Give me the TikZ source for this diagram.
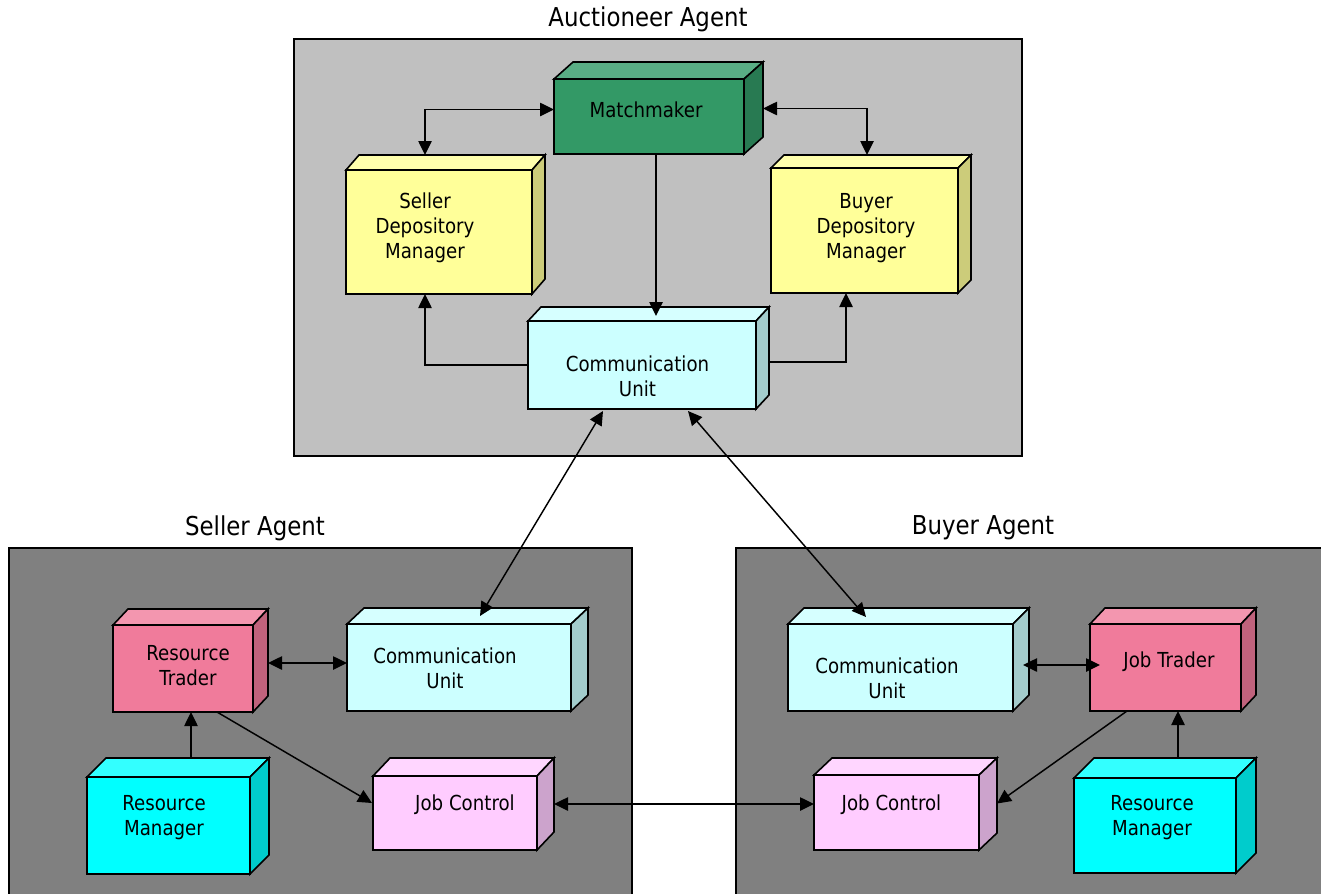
\documentclass[tikz,border=0pt]{standalone}
\usepackage{fontspec}
\setmainfont{DejaVu Sans}[FakeStretch=0.88]
\usetikzlibrary{calc,arrows.meta}
\definecolor{bgauc}{HTML}{C0C0C0}
\definecolor{bgagent}{HTML}{808080}
\definecolor{greenfront}{HTML}{339966}
\definecolor{greentop}{HTML}{5AAE85}
\definecolor{greenside}{HTML}{287A52}
\definecolor{yellowfront}{HTML}{FFFF99}
\definecolor{yellowtop}{HTML}{FFFFAD}
\definecolor{yellowside}{HTML}{CCCC7A}
\definecolor{lcyanfront}{HTML}{CCFFFF}
\definecolor{lcyantop}{HTML}{D6FFFF}
\definecolor{lcyanside}{HTML}{A3CCCC}
\definecolor{pinkfront}{HTML}{F07B9B}
\definecolor{pinktop}{HTML}{F396AF}
\definecolor{pinkside}{HTML}{C0627C}
\definecolor{cyanfront}{HTML}{00FFFF}
\definecolor{cyantop}{HTML}{33FFFF}
\definecolor{cyanside}{HTML}{00CCCC}
\definecolor{jcfront}{HTML}{FFCCFF}
\definecolor{jctop}{HTML}{FFD6FF}
\definecolor{jcside}{HTML}{CCA3CC}
\tikzset{
  cubeedge/.style={draw=black, line width=1.2pt, line join=miter},
  cubefront/.style={cubeedge, rectangle, inner sep=0pt, outer sep=0pt},
  agentbox/.style={draw=black, line width=1.2pt, rectangle, inner sep=0pt},
  boxtext/.style={font=\fontsize{15.5pt}{18.75pt}\selectfont, align=center, inner sep=0pt},
  titletext/.style={font=\fontsize{19.5pt}{23pt}\selectfont, inner sep=0pt},
  conn/.style={draw=black, line width=1.1pt, -{Triangle[length=10.5pt,width=10pt]}},
  conn2/.style={draw=black, line width=1.1pt, {Triangle[length=10.5pt,width=10pt]}-{Triangle[length=10.5pt,width=10pt]}},
}
% #1 name, #2 x1, #3 y1, #4 x2, #5 y2 (front face), #6 dx, #7 dy (up), #8 colour family
\newcommand\cubebox[8]{%
  \node[cubefront, fill=#8front, minimum width={(#4-#2)*0.75pt}, minimum height={(#5-#3)*0.75pt}] (#1) at ({(#2+#4)/2},{(#3+#5)/2}) {};
  \draw[cubeedge, fill=#8top] (#1.north west) -- ++(#6,-#7) -- ++({#4-#2},0) -- (#1.north east) -- cycle;
  \draw[cubeedge, fill=#8side] (#1.north east) -- ++(#6,-#7) -- ++(0,{#5-#3}) -- (#1.south east) -- cycle;
}
\begin{document}
\begin{tikzpicture}[x=0.75pt,y=-0.75pt]
\clip (0,0) rectangle (1321,893);
\fill[white] (0,0) rectangle (1321,893);
% containers
\node[agentbox, fill=bgauc, minimum width={728*0.75pt}, minimum height={417*0.75pt}] (auctioneer) at (658,247.5) {};
\node[agentbox, fill=bgagent, minimum width={623*0.75pt}, minimum height={360*0.75pt}] (seller) at (320.5,728) {};
\node[agentbox, fill=bgagent, minimum width={600*0.75pt}, minimum height={360*0.75pt}] (buyer) at (1036,728) {};
\node[titletext] (auctitle) at (648,19) {Auctioneer Agent};
\node[titletext] (sellertitle) at (255,528) {Seller Agent};
\node[titletext] (buyertitle) at (983,528) {Buyer Agent};
% auctioneer boxes
\cubebox{mm}{554}{79}{744}{154}{19}{17}{green}
\cubebox{sdm}{346}{170}{532}{294}{13}{15}{yellow}
\cubebox{bdm}{771}{168}{958}{293}{13}{13}{yellow}
\cubebox{acu}{528}{321}{756}{409}{13}{14}{lcyan}
% seller boxes
\cubebox{rt}{113}{625}{253}{712}{15}{16}{pink}
\cubebox{scu}{347}{624}{571}{711}{17}{16}{lcyan}
\cubebox{srm}{87}{777}{250}{874}{19}{19}{cyan}
\cubebox{sjc}{373}{776}{537}{850}{17}{18}{jc}
% buyer boxes
\cubebox{bcu}{788}{624}{1013}{711}{16}{16}{lcyan}
\cubebox{jt}{1090}{624}{1241}{711}{15}{16}{pink}
\cubebox{brm}{1074}{778}{1236}{873}{20}{20}{cyan}
\cubebox{bjc}{814}{775}{979}{850}{18}{17}{jc}
% texts
\node[boxtext] (mmt) at (646,110) {Matchmaker};
\node[boxtext] (sdmt) at (425,228) {Seller\\Depository\\Manager};
\node[boxtext] (bdmt) at (866,228) {Buyer\\Depository\\Manager};
\node[boxtext] (acut) at (637.5,376.5) {Communication\\Unit};
\node[boxtext] (rtt) at (188,665.5) {Resource\\Trader};
\node[boxtext] (scut) at (445,668.5) {Communication\\Unit};
\node[boxtext] (srmt) at (164,817.5) {Resource\\Manager};
\node[boxtext] (sjct) at (465,805) {Job Control};
\node[boxtext] (bcut) at (887,678.5) {Communication\\Unit};
\node[boxtext] (jtt) at (1169,662) {Job Trader};
\node[boxtext] (brmt) at (1152,817.5) {Resource\\Manager};
\node[boxtext] (bjct) at (891.5,805) {Job Control};
% connectors (auctioneer)
\draw[conn2] ($(mm.west)+(0,-7)$) -| ($(sdm.north)+(-14,-15)$);
\draw[conn2] ($(mm.east)+(19,-8)$) -| ($(bdm.north)+(2.5,-13)$);
\draw[conn] ($(mm.south)+(7,0)$) -- ($(acu.north)+(14,-5)$);
\draw[conn] (acu.west) -| ($(sdm.south)+(-14,0)$);
\draw[conn] ($(acu.east)+(13,-3)$) -| ($(bdm.south)+(-18.5,0)$);
\draw[conn2] ($(acu.south)+(-39,2)$) -- ($(scu.north)+(21,-8)$);
\draw[conn2] ($(acu.south)+(46,2)$) -- ($(bcu.north)+(-34.5,-7)$);
% seller
\draw[conn2] ($(rt.east)+(15,-5.5)$) -- ($(scu.west)+(0,-4.5)$);
\draw[conn] ($(srm.north)+(22.5,-19)$) -- ($(rt.south)+(8,0)$);
\draw[conn] ($(rt.south)+(34,0)$) -- ($(sjc.west)+(-1,-10)$);
% between
\draw[conn2] ($(sjc.east)+(17,-9)$) -- ($(bjc.west)+(0,-8.5)$);
% buyer
\draw[conn2] ($(bcu.east)+(10,-2.5)$) -- ($(jt.west)+(10,-2.5)$);
\draw[conn] ($(brm.north)+(23,-20)$) -- ($(jt.south)+(12.5,0)$);
\draw[conn] ($(jt.south)+(-38.5,0)$) -- ($(bjc.east)+(18,-9)$);
\end{tikzpicture}
\end{document}
